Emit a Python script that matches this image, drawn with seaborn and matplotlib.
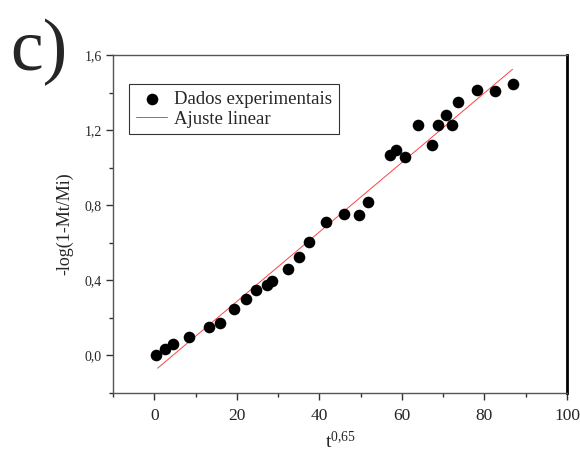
import numpy as np
import pandas as pd
import matplotlib
matplotlib.use("Agg")
import matplotlib.pyplot as plt
import seaborn as sns
from matplotlib.ticker import MultipleLocator, FuncFormatter

# Data
t065 = [0.5, 2.6, 4.6, 8.3, 13.3, 15.9, 19.2, 22.3, 24.6, 27.4, 28.6, 32.4, 35.1, 37.6, 41.7, 45.9,
        49.5, 51.8, 57.1, 58.5, 60.8, 63.9, 67.3, 68.8, 70.6, 72.1, 73.5, 78.2, 82.5, 86.8]
neg_log = [0.000, 0.034, 0.063, 0.096, 0.149, 0.171, 0.250, 0.301, 0.346, 0.374, 0.399, 0.459, 0.524,
           0.603, 0.709, 0.754, 0.750, 0.818, 1.070, 1.096, 1.057, 1.229, 1.121, 1.229, 1.278, 1.229,
           1.350, 1.416, 1.406, 1.445]
fit_x = [0.8, 86.8]
fit_slope = 0.01851
fit_intercept = -0.0828

xticks = [0, 20, 40, 60, 80, 100]
yticks = [0.0, 0.4, 0.8, 1.2, 1.6]

sns.set_theme(style="ticks")
plt.rcParams['font.family'] = ['Liberation Serif', 'DejaVu Serif']
plt.rcParams['mathtext.fontset'] = 'custom'
plt.rcParams['mathtext.rm'] = 'Liberation Serif'
plt.rcParams['mathtext.it'] = 'Liberation Serif'

df = pd.DataFrame({"x": t065, "y": neg_log})
fx = np.array(fit_x)
fit_df = pd.DataFrame({"x": fx, "y": fit_slope * fx + fit_intercept})

fig = plt.figure(figsize=(5.8, 4.53), dpi=100)
ax = fig.add_axes([113/580, 1 - 393/453, (567-113)/580, (393-55)/453])

sns.scatterplot(data=df, x="x", y="y", ax=ax, color="black", s=70, edgecolor="black",
                linewidth=0, label="Dados experimentais", zorder=3)
sns.lineplot(data=fit_df, x="x", y="y", ax=ax, color="#ff4040", linewidth=0.7,
             label="Ajuste linear", zorder=2)

ax.set_xlim(-10, 100)
ax.set_ylim(-0.2, 1.6)
ax.set_xticks(xticks)
ax.set_yticks(yticks)
ax.xaxis.set_minor_locator(MultipleLocator(10))
ax.yaxis.set_minor_locator(MultipleLocator(0.2))
ax.yaxis.set_major_formatter(FuncFormatter(lambda v, p: f"{v:.1f}".replace(".", ",")))
ax.tick_params(axis='x', which='major', direction='out', length=5, width=1, labelsize=12.5, pad=6, color='#333333')
ax.tick_params(axis='x', which='minor', direction='out', length=3, width=1, color='#333333')
ax.tick_params(axis='y', which='major', direction='out', length=5, width=1, labelsize=10, pad=3, color='#333333')
ax.tick_params(axis='y', which='minor', direction='out', length=3, width=1, color='#333333')

for side in ['left', 'bottom', 'top']:
    ax.spines[side].set_color('#555555')
    ax.spines[side].set_linewidth(1.0)
ax.spines['right'].set_color('black')
ax.spines['right'].set_linewidth(2.0)

ax.set_xlabel(r'$\mathregular{t^{0{,}65}}$', fontsize=14, labelpad=5)
ax.set_ylabel('-log(1-Mt/Mi)', fontsize=13, labelpad=8)

leg = ax.legend(loc='upper left', bbox_to_anchor=(16/454, 1 - 29/338), fontsize=13.5,
                frameon=True, fancybox=False, framealpha=1, edgecolor='#333333',
                borderpad=0.35, handlelength=1.7, handletextpad=0.35, labelspacing=0.15,
                borderaxespad=0)
leg.get_frame().set_linewidth(0.8)

fig.text(10/580, 1 - 70/453, 'c)', fontsize=53, ha='left', va='baseline')

fig.savefig("out.png", dpi=100)
